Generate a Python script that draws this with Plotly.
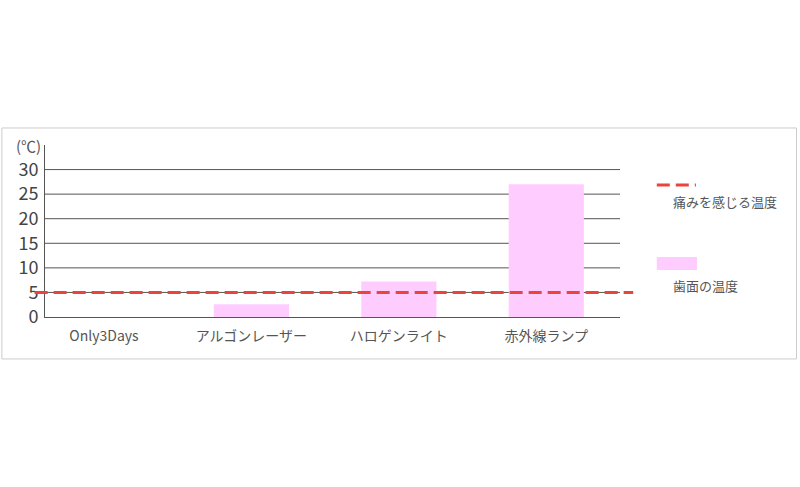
import plotly.graph_objects as go

categories = ["Only3Days", "アルゴンレーザー", "ハロゲンライト", "赤外線ランプ"]
tooth_temp = [0, 2.6, 7.2, 27]
pain_temp = 5
y_ticks = [0, 5, 10, 15, 20, 25, 30]

pink = "#ffccff"
red = "#e8453c"
grid = "#555555"
jp_font = "Noto Sans CJK JP"

fig = go.Figure()

fig.add_trace(go.Bar(x=categories, y=tooth_temp, marker=dict(color=pink, line=dict(width=0)),
                     width=0.51, showlegend=False))

# horizontal grid lines drawn as shapes so they sit behind the bars like the original
for t in y_ticks[1:]:
    fig.add_shape(type="line", xref="paper", yref="y", x0=0, x1=1, y0=t, y1=t,
                  line=dict(color=grid, width=1), layer="below")

# pain threshold line (extends a little past the plot area)
fig.add_shape(type="line", xref="paper", yref="y", x0=-0.018, x1=1.023, y0=pain_temp, y1=pain_temp,
              line=dict(color=red, width=3, dash="13px,6px"), layer="above")

# outer frame
fig.add_shape(type="rect", xref="paper", yref="paper", x0=-0.075, x1=1.307, y0=-0.244, y1=1.099,
              line=dict(color="#cccccc", width=1))

# legend, drawn by hand (symbol above label)
fig.add_shape(type="line", xref="paper", yref="paper", x0=1.064, x1=1.132, y0=0.767, y1=0.767,
              line=dict(color=red, width=3, dash="13px,6px"))
fig.add_annotation(x=1.088, y=0.669, xref="paper", yref="paper", text="痛みを感じる温度",
                   showarrow=False, xanchor="left", yanchor="middle",
                   font=dict(family=jp_font, size=13, color="#555555"))
fig.add_shape(type="rect", xref="paper", yref="paper", x0=1.064, x1=1.134, y0=0.273, y1=0.349,
              fillcolor=pink, line=dict(width=0))
fig.add_annotation(x=1.088, y=0.186, xref="paper", yref="paper", text="歯面の温度",
                   showarrow=False, xanchor="left", yanchor="middle",
                   font=dict(family=jp_font, size=13, color="#555555"))

# unit label
fig.add_annotation(x=-0.003, y=0.995, xref="paper", yref="paper", text="(℃)",
                   showarrow=False, xanchor="right", yanchor="middle",
                   font=dict(family=jp_font, size=15, color="#555555"))

fig.update_xaxes(range=[-0.4, 3.5], showgrid=False, showline=True, linecolor=grid, linewidth=1,
                 tickfont=dict(family=jp_font, size=14, color="#555555"), ticks="",
                 ticklabelstandoff=6)
fig.update_yaxes(range=[0, 35], tickvals=y_ticks, showgrid=False, zeroline=False,
                 showline=True, linecolor=grid, linewidth=1, ticks="",
                 tickfont=dict(family=jp_font, size=18, color="#444444"), ticklabelstandoff=2)

fig.update_layout(width=800, height=487, margin=dict(l=45, r=180, t=145, b=170),
                  paper_bgcolor="white", plot_bgcolor="white")

# drop the default body margin so the figure sits at the window's corner
fig.write_html("out.html", config={"displayModeBar": False},
               post_script="document.body.style.margin='0';")
